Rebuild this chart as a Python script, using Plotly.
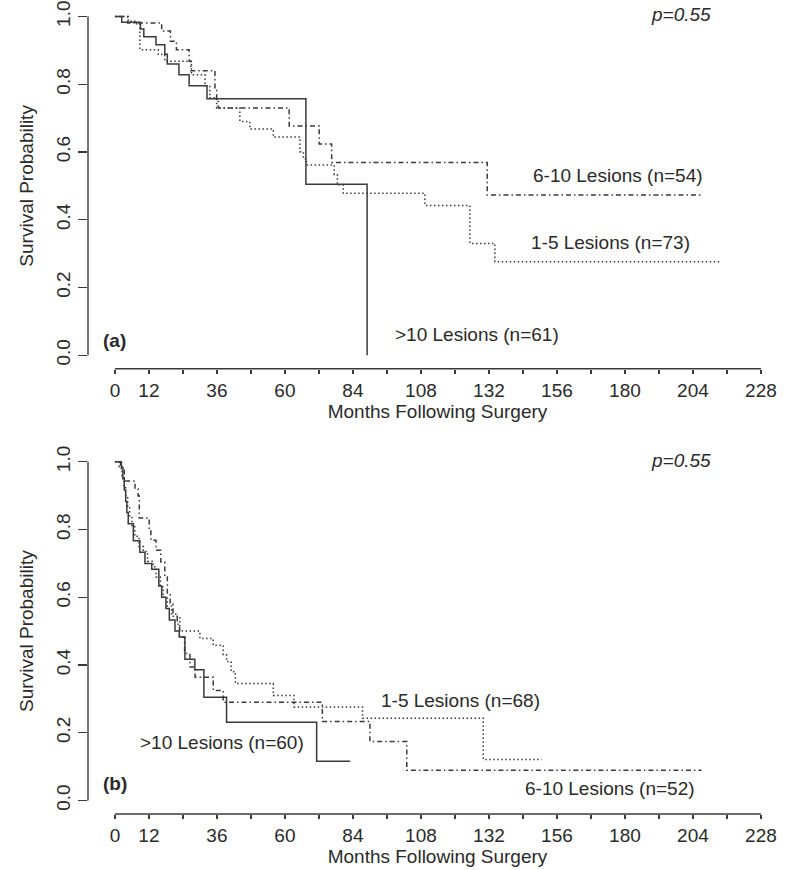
import plotly.graph_objects as go

# ---------------- Panel (a) data: (months, survival probability) ----------------
a_gt10_t = [0, 2.4, 9.0, 10.2, 14.5, 17.6, 18.5, 22.6, 26.2, 32.5, 67.4, 89.0]
a_gt10_s = [1.0, 0.983, 0.963, 0.940, 0.917, 0.889, 0.860, 0.828, 0.796, 0.757, 0.505, 0.0]

a_15_t = [0, 4.7, 7.6, 8.8, 15.3, 17.6, 27.0, 31.8, 33.5, 35.9, 44.1, 47.6, 55.9, 65.3, 66.5,
          67.6, 77.4, 78.5, 80.6, 109.4, 125.3, 134.1, 214.0]
a_15_s = [1.0, 0.986, 0.979, 0.902, 0.888, 0.868, 0.828, 0.796, 0.760, 0.730, 0.690, 0.668, 0.644,
          0.601, 0.580, 0.562, 0.533, 0.503, 0.478, 0.442, 0.330, 0.276, 0.276]

a_610_t = [0, 4.5, 16.5, 19.6, 21.7, 26.2, 26.8, 35.3, 35.9, 36.5, 61.5, 72.1, 76.5, 131.4, 206.7]
a_610_s = [1.0, 0.981, 0.957, 0.927, 0.902, 0.868, 0.840, 0.784, 0.754, 0.730, 0.677, 0.624, 0.569,
           0.473, 0.473]

# ---------------- Panel (b) data ----------------
b_gt10_t = [0, 2.3, 2.8, 3.3, 3.8, 4.2, 4.7, 6.5, 8.8, 10.6, 13.0, 15.5, 16.5, 18.0, 19.2, 21.2,
            22.7, 24.7, 28.2, 31.4, 39.4, 71.2, 83.0]
b_gt10_s = [1.0, 0.983, 0.950, 0.917, 0.883, 0.850, 0.817, 0.767, 0.733, 0.700, 0.683, 0.633, 0.600,
            0.567, 0.533, 0.500, 0.483, 0.417, 0.386, 0.305, 0.231, 0.116, 0.116]

b_15_t = [0, 1.5, 2.5, 3.2, 3.8, 4.5, 5.2, 6.0, 7.0, 8.5, 10.0, 11.5, 13.5, 14.5, 16.0, 17.0, 18.5,
          20.0, 22.9, 30.0, 34.7, 38.2, 39.4, 41.0, 42.5, 55.9, 63.2, 87.4, 130.0, 150.6]
b_15_s = [1.0, 0.985, 0.956, 0.926, 0.897, 0.868, 0.838, 0.809, 0.780, 0.750, 0.735, 0.706, 0.690,
          0.660, 0.630, 0.600, 0.574, 0.544, 0.500, 0.478, 0.458, 0.430, 0.410, 0.380, 0.345, 0.310,
          0.276, 0.243, 0.121, 0.121]

b_610_t = [0, 2.0, 3.3, 7.1, 8.2, 8.6, 12.1, 12.7, 14.5, 16.2, 17.6, 18.5, 19.5, 20.5, 22.0, 22.8,
           24.6, 26.5, 28.3, 34.7, 38.2, 73.2, 90.0, 103.0, 207.0]
b_610_s = [1.0, 0.980, 0.943, 0.920, 0.900, 0.834, 0.800, 0.768, 0.739, 0.704, 0.660, 0.610, 0.580,
           0.550, 0.520, 0.483, 0.434, 0.394, 0.364, 0.325, 0.290, 0.233, 0.174, 0.089, 0.089]

# ---------------- Axis ticks ----------------
x_tickvals = list(range(0, 229, 12))
x_ticklabels = ["0", "12", "", "36", "", "60", "", "84", "", "108", "", "132", "", "156", "",
                "180", "", "204", "", "228"]
y_tickvals = [0.0, 0.2, 0.4, 0.6, 0.8, 1.0]
y_ticklabels = ["0.0", "0.2", "0.4", "0.6", "0.8", "1.0"]

# ---------------- Labels ----------------
a_labels = ["6-10 Lesions (n=54)", "1-5 Lesions (n=73)", ">10 Lesions (n=61)"]
a_label_x = [177.5, 174.9, 127.8]
a_label_y = [0.530, 0.332, 0.062]
b_labels = ["1-5 Lesions (n=68)", "6-10 Lesions (n=52)", ">10 Lesions (n=60)"]
b_label_x = [121.9, 174.6, 37.8]
b_label_y = [0.296, 0.035, 0.172]

LINE = "#3a3a3a"
TXT = "#2a2a2a"
FONT = "Liberation Sans, Arial, sans-serif"
FS = 19
DOT = "1.5px,2.5px"
DASHDOT = "1.5px,3px,5px,3px"

fig = go.Figure()

def add_curve(t, s, dash, xa, ya):
    fig.add_trace(go.Scatter(
        x=t, y=s, mode="lines", line=dict(color=LINE, width=1.5, dash=dash, shape="hv"),
        xaxis=xa, yaxis=ya, showlegend=False, hoverinfo="skip"))

add_curve(a_15_t, a_15_s, DOT, "x", "y")
add_curve(a_610_t, a_610_s, DASHDOT, "x", "y")
add_curve(a_gt10_t, a_gt10_s, "solid", "x", "y")
add_curve(b_15_t, b_15_s, DOT, "x2", "y2")
add_curve(b_610_t, b_610_s, DASHDOT, "x2", "y2")
add_curve(b_gt10_t, b_gt10_s, "solid", "x2", "y2")

annotations = []
for txt, x, y in zip(a_labels, a_label_x, a_label_y):
    annotations.append(dict(text=txt, x=x, y=y, xref="x", yref="y", showarrow=False,
                            font=dict(size=FS, color=TXT, family=FONT)))
for txt, x, y in zip(b_labels, b_label_x, b_label_y):
    annotations.append(dict(text=txt, x=x, y=y, xref="x2", yref="y2", showarrow=False,
                            font=dict(size=FS, color=TXT, family=FONT)))
for lab, xr, yr, yv in [("(a)", "x", "y", 0.044), ("(b)", "x2", "y2", 0.05)]:
    annotations.append(dict(text="<b>" + lab + "</b>", x=0, y=yv, xref=xr, yref=yr,
                            showarrow=False, font=dict(size=FS, color=TXT, family=FONT)))
for xr, yr, yv in [("x", "y", 1.006), ("x2", "y2", 1.005)]:
    annotations.append(dict(text="<i>p=0.55</i>", x=199.8, y=yv, xref=xr, yref=yr,
                            showarrow=False, font=dict(size=FS, color=TXT, family=FONT)))

shapes = []
for xr, yr in [("x", "y"), ("x2", "y2")]:
    # R-style axis lines spanning only the tick range
    shapes.append(dict(type="line", xref=xr, yref=yr + " domain", x0=0, x1=228, y0=0, y1=0,
                       line=dict(color=LINE, width=1.4)))
    shapes.append(dict(type="line", xref=xr + " domain", yref=yr, x0=0, x1=0, y0=0, y1=1,
                       line=dict(color=LINE, width=1.4)))

xaxis_common = dict(range=[-9.5, 237.2], tickmode="array", tickvals=x_tickvals,
                    ticktext=x_ticklabels, ticks="outside", ticklen=4, tickwidth=1.3,
                    tickcolor=LINE, showgrid=False, zeroline=False, showline=False,
                    automargin=False,
                    tickfont=dict(size=FS, color=TXT, family=FONT),
                    title=dict(text="Months Following Surgery", standoff=2,
                               font=dict(size=FS, color=TXT, family=FONT)))
yaxis_common = dict(range=[-0.04, 1.04], tickmode="array", tickvals=y_tickvals,
                    ticktext=y_ticklabels, ticks="outside", ticklen=9, tickwidth=1.3,
                    tickcolor=LINE, showgrid=False, zeroline=False, showline=False,
                    tickangle=-90, automargin=False,
                    tickfont=dict(size=FS, color=TXT, family=FONT),
                    title=dict(text="Survival Probability", standoff=14,
                               font=dict(size=FS, color=TXT, family=FONT)))

fig.update_layout(
    width=800, height=870,
    margin=dict(l=88, r=13, t=3, b=56),
    paper_bgcolor="white", plot_bgcolor="white",
    xaxis=dict(xaxis_common, domain=[0, 1], anchor="y"),
    yaxis=dict(yaxis_common, domain=[0.549, 1], anchor="x"),
    xaxis2=dict(xaxis_common, domain=[0, 1], anchor="y2"),
    yaxis2=dict(yaxis_common, domain=[0, 0.451], anchor="x2"),
    annotations=annotations, shapes=shapes,
)

fig.write_html("out.html", config={"displayModeBar": False, "staticPlot": True},
               post_script="document.body.style.margin='0';document.body.style.overflow='hidden';")
